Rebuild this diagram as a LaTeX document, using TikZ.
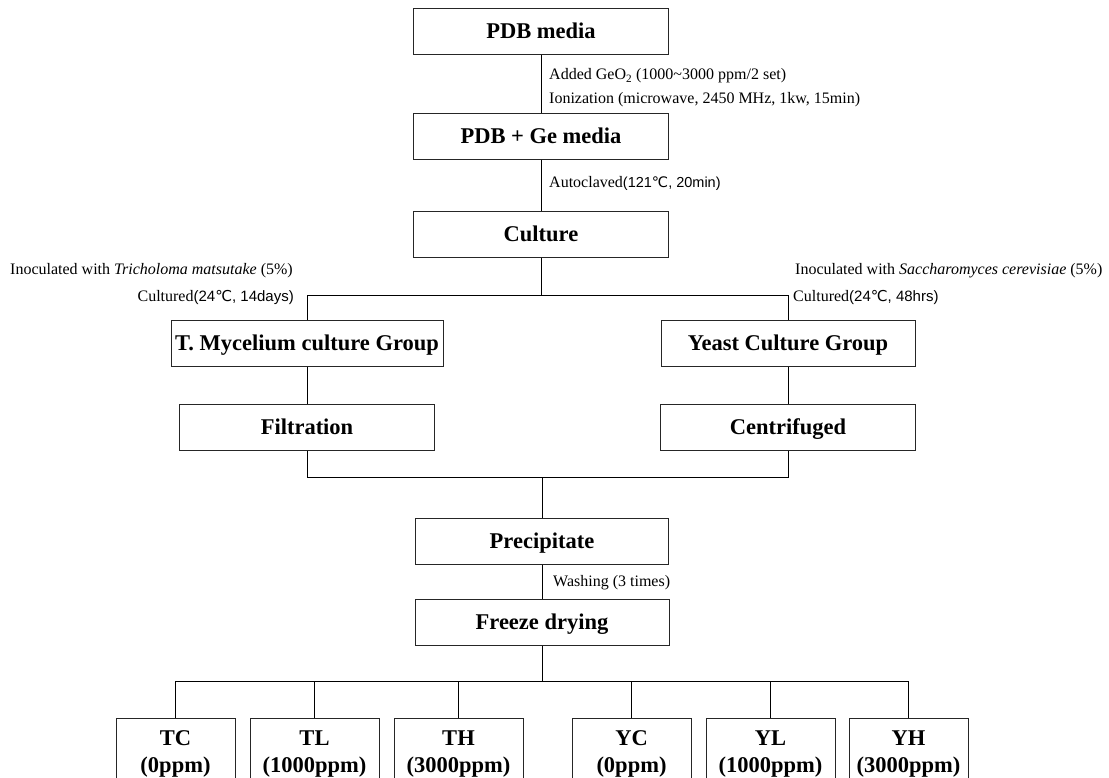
\documentclass[tikz,border=0pt]{standalone}
\usepackage{fontspec}
\setmainfont{Liberation Serif}
\newfontfamily\gulim{Liberation Sans}
\newfontfamily\degfont{DejaVu Sans}
\usetikzlibrary{positioning}
\newcommand{\degC}{{\degfont ℃}}

\begin{document}
\begin{tikzpicture}[x=1pt, y=-1pt, node distance=14pt,
    every node/.style={inner sep=0pt},
    frame/.style={draw=black!85, line width=1pt,
      font=\fontsize{22.5}{27}\selectfont\bfseries, align=center},
    stage/.style={frame, minimum height=46pt, text height=14.6pt, text depth=0pt},
    sample/.style={frame, minimum height=72pt},
    note/.style={font=\fontsize{16}{19}\selectfont},
    link/.style={line width=1pt}]
    \useasboundingbox (0,0) rectangle (1109,777);
    \clip (0,0) rectangle (1109,777);
    \node[stage, minimum width=255pt] (pdb) at (541,31) {PDB media};
    \node[stage, minimum width=255pt, below=58pt of pdb] (pdbge) {PDB + Ge media};
    \node[stage, minimum width=255pt, below=51pt of pdbge] (culture) {Culture};
    \node[stage, minimum width=272pt] (tgroup) at (307,343) {T. Mycelium culture Group};
    \node[stage, minimum width=254pt] (ygroup) at (788,343) {Yeast Culture Group};
    \node[stage, minimum width=255pt, below=37pt of tgroup] (filt) {Filtration};
    \node[stage, minimum width=255pt, below=37pt of ygroup] (centr) {Centrifuged};
    \node[stage, minimum width=253pt] (precip) at (542,541) {Precipitate};
    \node[stage, minimum width=254pt, below=34pt of precip] (freeze) {Freeze drying};
    \node[sample, minimum width=119pt] (tc) at (175.5,754) {TC\\(0ppm)};
    \node[sample, minimum width=129pt, right=of tc] (tl) {TL\\(1000ppm)};
    \node[sample, minimum width=129pt, right=of tl] (th) {TH\\(3000ppm)};
    \node[sample, minimum width=119pt, right=48pt of th] (yc) {YC\\(0ppm)};
    \node[sample, minimum width=129pt, right=of yc] (yl) {YL\\(1000ppm)};
    \node[sample, minimum width=119pt, right=13pt of yl] (yh) {YH\\(3000ppm)};

    \node[note, anchor=west] (addge) at (549,76) {Added GeO\textsubscript{2} (1000\textasciitilde3000 ppm/2 set)};
    \node[note, anchor=west] (ionize) at (549,100) {Ionization (microwave, 2450 MHz, 1kw, 15min)};
    \node[note, anchor=west] (autoclave) at (549,183) {Autoclaved{\gulim\fontsize{14.5}{17}\selectfont(121\degC, 20min)}};
    \node[note, anchor=east] (inoct) at (293,271) {Inoculated with \textit{Tricholoma matsutake} (5\%)};
    \node[note, anchor=east] (cultt) at (294,297) {Cultured{\gulim\fontsize{15}{17}\selectfont(24\degC, 14days)}};
    \node[note, anchor=west] (inocy) at (795,271) {Inoculated with \textit{Saccharomyces cerevisiae} (5\%)};
    \node[note, anchor=west] (culty) at (793,297) {Cultured{\gulim\fontsize{15}{17}\selectfont(24\degC, 48hrs)}};
    \node[note, anchor=west] (wash) at (553,583) {Washing (3 times)};

    \coordinate[below=38pt of culture.south] (fork);
    \coordinate[above=40pt of precip.north] (join);
    \coordinate[below=36pt of freeze.south] (spread);
    \draw[link] (pdb) -- (pdbge);
    \draw[link] (pdbge) -- (culture);
    \draw[link] (culture) -- (fork);
    \draw[link] (tgroup) |- (fork) -| (ygroup);
    \draw[link] (tgroup) -- (filt);
    \draw[link] (ygroup) -- (centr);
    \draw[link] (filt) |- (join) -| (centr);
    \draw[link] (join) -- (precip);
    \draw[link] (precip) -- (freeze);
    \draw[link] (freeze) -- (spread);
    \draw[link] (tc) |- (spread) -| (yh);
    \foreach \n in {tl,th,yc,yl}
      \draw[link] (\n) -- (\n |- spread);
  \end{tikzpicture}
\end{document}
